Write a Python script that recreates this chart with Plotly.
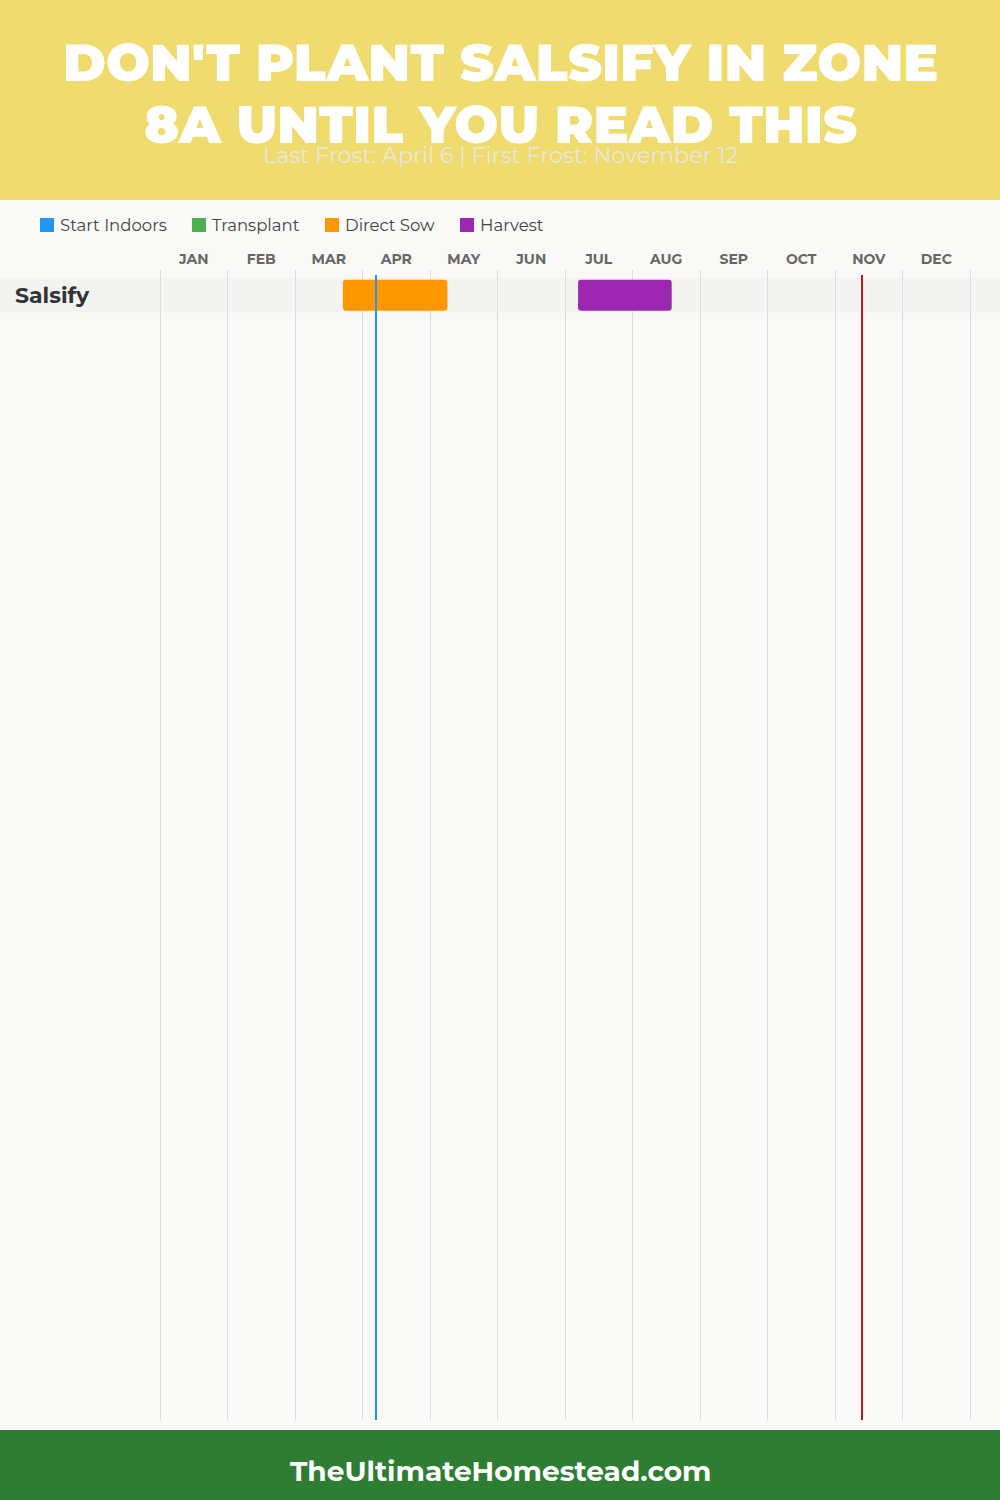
import plotly.graph_objects as go

# ---------------- data ----------------
MONTHS = ["JAN", "FEB", "MAR", "APR", "MAY", "JUN", "JUL", "AUG", "SEP", "OCT", "NOV", "DEC"]
DAYS_IN_MONTH = [31, 28, 31, 30, 31, 30, 31, 31, 30, 31, 30, 31]

CROPS = ["Salsify"]
PHASES = ["Start Indoors", "Transplant", "Direct Sow", "Harvest"]
PHASE_COLORS = ["#2196F3", "#4CAF50", "#FF9800", "#9C27B0"]

# phase windows per crop (MM-DD)
DIRECT_SOW_START = ["03-22"]
DIRECT_SOW_END = ["05-08"]
HARVEST_START = ["07-06"]
HARVEST_END = ["08-18"]

LAST_FROST = "04-06"
FIRST_FROST = "11-12"

TITLE_LINES = ["DON'T PLANT SALSIFY IN ZONE", "8A UNTIL YOU READ THIS"]
SUBTITLE = "Last Frost: April 6 | First Frost: November 12"
FOOTER = "TheUltimateHomestead.com"


def mpos(s):
    m, d = (int(v) for v in s.split("-"))
    return (m - 1) + d / DAYS_IN_MONTH[m - 1]


# ---------------- layout constants ----------------
W, H = 1000, 1500
X0_PX, MONTH_PX = 160, 67.5
ROW_CENTER_PX, ROW_PX = 295.2, 35
PLOT_TOP_PX, PLOT_BOT_PX = 270, 1420


def py(px):
    return 1 - px / H


x_range = [-X0_PX / MONTH_PX, (W - X0_PX) / MONTH_PX]
y_range = [(PLOT_BOT_PX - ROW_CENTER_PX) / ROW_PX, (PLOT_TOP_PX - ROW_CENTER_PX) / ROW_PX]

BG = "#F9F9F7"
HEADER = "#F0DB6E"
FOOTER_BG = "#2E7D32"
FONT = "Montserrat, Inter, 'Open Sans', sans-serif"

fig = go.Figure()

rows = list(range(len(CROPS)))
windows = {
    "Direct Sow": (DIRECT_SOW_START, DIRECT_SOW_END),
    "Harvest": (HARVEST_START, HARVEST_END),
}
for name, (starts, ends) in windows.items():
    col = PHASE_COLORS[PHASES.index(name)]
    b = [mpos(s) for s in starts]
    e = [mpos(s) for s in ends]
    fig.add_trace(go.Bar(
        y=rows, x=[ee - bb for bb, ee in zip(b, e)], base=b, orientation="h",
        marker=dict(color=col, line=dict(width=0)), width=31 / ROW_PX,
        name=name, showlegend=False, hoverinfo="skip",
    ))

shapes = []
# header & footer bands
shapes.append(dict(type="rect", xref="paper", yref="paper", x0=0, x1=1, y0=py(200), y1=1,
                   fillcolor=HEADER, line=dict(width=0), layer="above"))
shapes.append(dict(type="rect", xref="paper", yref="paper", x0=0, x1=1, y0=0, y1=py(1430),
                   fillcolor=FOOTER_BG, line=dict(width=0), layer="above"))
# row bands
for r in rows:
    shapes.append(dict(type="rect", xref="paper", yref="y", x0=0, x1=1, y0=r - 0.5, y1=r + 0.5,
                       fillcolor="#F3F3F2", line=dict(width=0), layer="between"))
# frost lines
for d, c in [(LAST_FROST, "#2196F3"), (FIRST_FROST, "#B71C1C")]:
    shapes.append(dict(type="line", xref="x", yref="paper", x0=mpos(d), x1=mpos(d),
                       y0=py(PLOT_BOT_PX), y1=py(275), line=dict(color=c, width=2), layer="above"))

annotations = []
# legend (manual)
LEG_X = [40, 192, 325, 460]
for lx, name, col in zip(LEG_X, PHASES, PHASE_COLORS):
    shapes.append(dict(type="rect", xref="paper", yref="paper", x0=lx / W, x1=(lx + 14) / W,
                       y0=py(232), y1=py(218), fillcolor=col, line=dict(width=0)))
    annotations.append(dict(text=name, xref="paper", yref="paper", x=(lx + 18) / W, y=py(225),
                            xanchor="left", yanchor="middle", showarrow=False,
                            font=dict(family=FONT, size=16.5, color="#444444")))
# crop labels
for r, c in zip(rows, CROPS):
    annotations.append(dict(text=c, xref="paper", yref="y", x=13 / W, y=r, xanchor="left",
                            yanchor="middle", showarrow=False,
                            font=dict(family=FONT, size=22, color="#333333", weight=700)))
# title
for i, line in enumerate(TITLE_LINES):
    annotations.append(dict(text=line, xref="paper", yref="paper", x=0.5, y=py(62 + i * 62),
                            xanchor="center", yanchor="middle", showarrow=False,
                            font=dict(family=FONT, size=52, color="white", weight=900)))
annotations.append(dict(text=SUBTITLE, xref="paper", yref="paper", x=0.5, y=py(155),
                        xanchor="center", yanchor="middle", showarrow=False,
                        font=dict(family=FONT, size=22.3, color="rgba(232,232,232,0.95)")))
annotations.append(dict(text=FOOTER, xref="paper", yref="paper", x=0.5, y=py(1471),
                        xanchor="center", yanchor="middle", showarrow=False,
                        font=dict(family=FONT, size=28, color="white", weight=700)))

fig.update_layout(
    width=W, height=H, margin=dict(l=0, r=0, t=0, b=0),
    paper_bgcolor=BG, plot_bgcolor=BG,
    barmode="overlay", barcornerradius=3,
    showlegend=False,
    xaxis=dict(
        domain=[0, 1], range=x_range, side="top",
        tickmode="array", tickvals=[i + 0.5 for i in range(12)], ticktext=MONTHS,
        showgrid=False, zeroline=False, showline=False, ticks="", ticklabelstandoff=2,
        tickfont=dict(family=FONT, size=14, color="#666666", weight=700),
        minor=dict(tickmode="array", tickvals=list(range(13)), showgrid=True,
                   gridcolor="#DDDDDD", gridwidth=1, ticks=""),
        fixedrange=True,
    ),
    yaxis=dict(
        domain=[py(PLOT_BOT_PX), py(PLOT_TOP_PX)], range=y_range,
        showgrid=False, zeroline=False, showticklabels=False, showline=False, fixedrange=True,
    ),
    shapes=shapes, annotations=annotations,
)

fig.write_html("out.html", config={"displayModeBar": False},
               post_script="document.body.style.margin='0';document.body.style.padding='0';")
